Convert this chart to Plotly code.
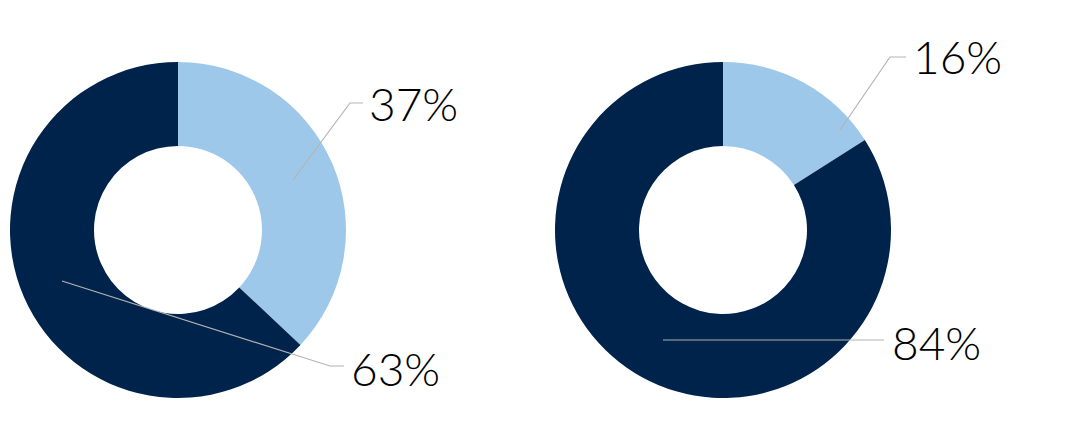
import plotly.graph_objects as go

labels = ["A", "B"]
left_values = [37, 63]
right_values = [16, 84]
left_text = ["37%", "63%"]
right_text = ["16%", "84%"]
colors = ["#9DC8EA", "#00234B"]

W, H = 1091, 440
OFF = 8  # page body margin offset

def px(x):
    return (x - OFF) / W

def py(y):
    return 1 - (y - OFF) / H

fig = go.Figure()
fig.add_trace(go.Pie(labels=labels, values=left_values, hole=0.5, sort=False,
                     direction="clockwise", rotation=0,
                     marker=dict(colors=colors, line=dict(width=0)),
                     textinfo="none", hoverinfo="label+value", showlegend=False,
                     domain=dict(x=[px(10), px(346)], y=[py(398), py(62)])))
fig.add_trace(go.Pie(labels=labels, values=right_values, hole=0.5, sort=False,
                     direction="clockwise", rotation=0,
                     marker=dict(colors=colors, line=dict(width=0)),
                     textinfo="none", hoverinfo="label+value", showlegend=False,
                     domain=dict(x=[px(555), px(891)], y=[py(398), py(62)])))

line_style = dict(color="#B4B4B4", width=1.2)
leaders = [
    [(293, 180), (350, 103), (363, 103)],
    [(62, 281), (330, 366), (344, 366)],
    [(840, 130), (890, 57), (906, 57)],
    [(663, 340), (884, 340)],
]
for pts in leaders:
    path = "M " + " L ".join(f"{px(x)},{py(y)}" for x, y in pts)
    fig.add_shape(type="path", path=path, xref="paper", yref="paper", line=line_style)

font = dict(family="Lato", size=46, color="#000000", weight=300)
ann = [
    (left_text[0], 367, 104),
    (left_text[1], 349, 368),
    (right_text[0], 911, 57),
    (right_text[1], 890, 342),
]
for t, x, y in ann:
    fig.add_annotation(text=t, x=px(x), y=py(y), xref="paper", yref="paper",
                       xanchor="left", yanchor="middle", showarrow=False, font=font)

fig.update_layout(width=W, height=H, margin=dict(l=0, r=0, t=0, b=0),
                  paper_bgcolor="white", plot_bgcolor="white")
fig.write_html("out.html")
